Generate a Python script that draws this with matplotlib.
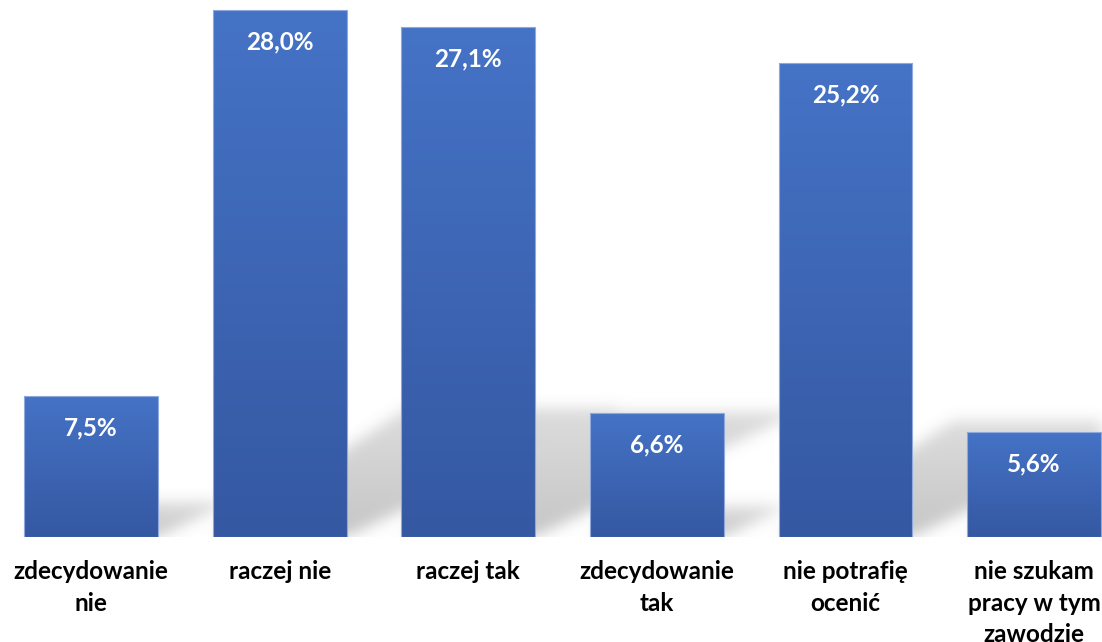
import numpy as np
import matplotlib
matplotlib.use('Agg')
import matplotlib.pyplot as plt
from matplotlib.path import Path
from matplotlib.colors import LinearSegmentedColormap

# data
categories = ['zdecydowanie\nnie', 'raczej nie', 'raczej tak',
              'zdecydowanie\ntak', 'nie potrafię\nocenić',
              'nie szukam\npracy w tym\nzawodzie']
values = [7.5, 28.0, 27.1, 6.6, 25.2, 5.6]
value_labels = ['7,5%', '28,0%', '27,1%', '6,6%', '25,2%', '5,6%']

plt.rcParams['font.family'] = ['Lato', 'DejaVu Sans']

fig = plt.figure(figsize=(11.02, 6.42), dpi=100)
ax = fig.add_axes([0, 0.1636, 1, 0.8364])
xlim = (-0.4825, 5.36)
ylim = (0, 28.53)
ax.set_xlim(xlim)
ax.set_ylim(ylim)
ax.axis('off')

width = 0.71
x = np.arange(len(values))

# soft perspective shadow behind each bar (cast towards upper right)
nx, ny = 1102, 537
gx = np.linspace(xlim[0], xlim[1], nx)
gy = np.linspace(ylim[0], ylim[1], ny)
XX, YY = np.meshgrid(gx, gy)
pts = np.column_stack([XX.ravel(), YY.ravel()])
shade = np.zeros(XX.shape)
for xi, v in zip(x, values):
    dy = 0.245 * v
    poly = Path([(xi - width/2, 0), (xi + width/2, 0),
                 (xi + width/2 + 0.052 * v, dy),
                 (xi - width/2 + 0.037 * v, dy)])
    m = poly.contains_points(pts).reshape(XX.shape)
    fade = np.clip(1 - 0.4 * YY / dy, 0, 1)
    shade = np.maximum(shade, m * fade)

k = np.exp(-0.5 * (np.arange(-24, 25) / 7.0) ** 2)
k /= k.sum()
shade = np.apply_along_axis(lambda r: np.convolve(r, k, mode='same'), 1, shade)
shade = np.apply_along_axis(lambda c: np.convolve(c, k, mode='same'), 0, shade)
rgba = np.zeros(shade.shape + (4,))
rgba[..., :3] = 0.5
rgba[..., 3] = np.clip(shade * 0.45, 0, 1)
ax.imshow(rgba, extent=(xlim[0], xlim[1], ylim[0], ylim[1]), origin='lower',
          aspect='auto', zorder=1, interpolation='bilinear')

# gradient bars
cmap = LinearSegmentedColormap.from_list('bar', ['#3558a2', '#4573c6'])
bars = ax.bar(x, values, width=width, color='none', edgecolor='#8fa9dc',
              linewidth=0.8, zorder=3)
grad = np.linspace(0, 1, 256).reshape(-1, 1)
for b in bars:
    x0, y0 = b.get_x(), b.get_y()
    im = ax.imshow(grad, cmap=cmap, origin='lower', aspect='auto',
                   extent=(x0, x0 + b.get_width(), y0, y0 + b.get_height()),
                   zorder=2)
    im.set_clip_path(b)

for b, lab in zip(bars, value_labels):
    ax.annotate(lab, (b.get_x() + b.get_width()/2, b.get_height()),
                xytext=(0, -32), textcoords='offset pixels',
                ha='center', va='center', color='white',
                fontsize=17.5, fontweight='bold', zorder=4)

for xi, cat in zip(x, categories):
    ax.annotate(cat, (xi, 0), xytext=(0, -23), textcoords='offset pixels',
                ha='center', va='top', fontsize=17.5, fontweight='bold',
                color='black', linespacing=1.45, annotation_clip=False)

fig.savefig('out.png', dpi=100)
